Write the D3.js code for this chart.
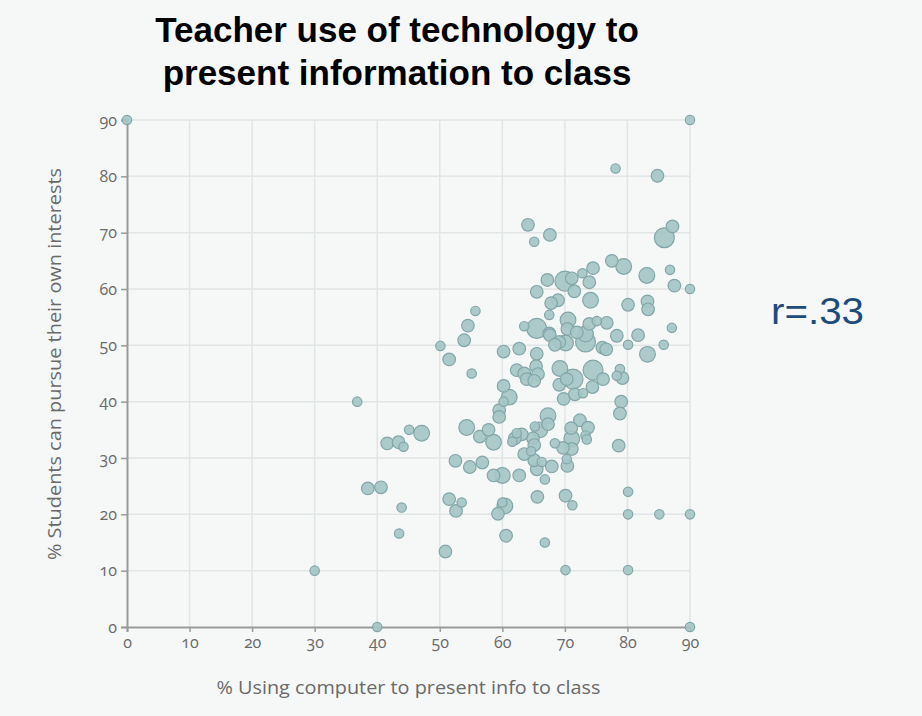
<!DOCTYPE html>
<html>
<head>
<meta charset="utf-8">
<script src="https://cdn.jsdelivr.net/npm/d3@7"></script>
<style>
  body { margin: 0; background: #f6f8f8; }
  svg { display: block; }
  .axis-title { font-family: "Open Sans", "Lato", sans-serif; font-size: 18px; fill: #6a6a6a; }
</style>
</head>
<body>
<svg id="chart" width="922" height="716"></svg>
<script>
// values: % using computer (x), % students pursue interests (y), relative sample size
const pctComputer = [
  0, 90, 90, 90, 90, 40, 30, 36.8, 78.1, 84.8,
  87.2, 85.9, 64.1, 65.1, 67.6, 77.5, 79.4, 74.5, 72.8, 83.1,
  86.8, 87.5, 70, 71.1, 67.2, 73.9, 71.5, 65.5, 74.1, 68.9,
  67.8, 67.5, 80.1, 83.2, 83.3, 55.7, 54.5, 53.9, 50.1, 51.5,
  55.1, 60.2, 62.7, 65.5, 63.5, 65.5, 67.5, 67.6, 70.5, 70.4,
  71.9, 73.9, 75.1, 76.7, 73.3, 73.3, 78.3, 81.7, 87.1, 80.1,
  85.8, 83.2, 70.1, 69.1, 68.4, 76, 76.6, 69.2, 71.3, 74.5,
  76.1, 78.8, 78.3, 79.2, 62.3, 63.5, 65.4, 65.7, 63.9, 65.1,
  60.2, 69.1, 70.3, 74.4, 61.1, 60.2, 59.5, 59.5, 54.3, 47.1,
  56.4, 57.8, 58.6, 52.5, 54.8, 56.8, 58.6, 60, 62.7, 66.8,
  67.9, 70.4, 65.5, 65.1, 63.5, 64.6, 66.3, 70.3, 51.5, 53.5,
  52.6, 59.3, 60.4, 60, 65.6, 70.1, 71.2, 60.6, 66.8, 50.9,
  80.1, 80.1, 85.1, 70.1, 80.1, 79, 78.8, 78.6, 67.3, 66,
  67.3, 64.9, 63.1, 62, 61.6, 69.8, 71.6, 72.9, 72.4, 71,
  71.1, 71.1, 69.7, 68.4, 73.7, 73.3, 73.5, 65.2, 41.6, 43.4,
  44.2, 45.1, 38.5, 40.6, 43.9, 43.5, 62.3, 65.1
];
const pctInterests = [
  90, 90, 60, 20, 0, 0, 10, 40, 81.4, 80.1,
  71.1, 69.1, 71.4, 68.4, 69.6, 65, 64, 63.7, 62.8, 62.4,
  63.4, 60.6, 61.4, 61.9, 61.6, 61.2, 59.6, 59.5, 58, 58,
  57.5, 55.4, 57.2, 57.8, 56.4, 56.1, 53.5, 50.9, 49.9, 47.5,
  45, 48.9, 49.4, 48.5, 53.4, 53, 52.1, 51.8, 54.5, 52.9,
  52.3, 53.8, 54.3, 54, 52, 50.6, 51.7, 51.8, 53.1, 50.1,
  50.1, 48.4, 50.4, 50.6, 50.1, 49.6, 49.3, 45.9, 44, 45.6,
  44, 45.8, 44.6, 44.2, 45.6, 45, 46.3, 44.9, 44, 43.7,
  42.8, 43, 44, 42.6, 40.8, 40, 38.5, 37.3, 35.4, 34.4,
  33.8, 35, 32.8, 29.5, 28.4, 29.2, 26.9, 26.9, 26.9, 26.2,
  28.5, 28.6, 28, 29.6, 30.7, 31.2, 29.3, 29.8, 22.7, 22.1,
  20.6, 20.1, 21.5, 22.1, 23.1, 23.3, 21.6, 16.2, 15, 13.4,
  24, 20, 20, 10.1, 10.1, 40, 37.9, 32.2, 37.5, 35,
  36, 33.5, 34.2, 33.5, 32.9, 40.5, 41.3, 41.5, 36.7, 35.3,
  33.4, 31.6, 31.8, 32.6, 35.4, 34, 33.3, 35.6, 32.6, 32.8,
  32, 35, 24.6, 24.8, 21.2, 16.6, 34.4, 32.3
];
const sampleSize = [
  20, 20, 20, 20, 20, 20, 20, 20, 20, 36,
  36, 90, 36, 20, 36, 36, 56, 36, 20, 56,
  20, 36, 90, 36, 36, 36, 36, 36, 56, 36,
  36, 20, 36, 36, 36, 20, 36, 36, 20, 36,
  20, 36, 36, 36, 20, 90, 36, 36, 56, 36,
  36, 36, 20, 36, 56, 90, 36, 36, 20, 20,
  20, 56, 56, 36, 36, 36, 36, 56, 90, 90,
  36, 20, 20, 36, 36, 36, 36, 36, 36, 36,
  36, 36, 36, 36, 56, 20, 36, 36, 56, 56,
  36, 36, 56, 36, 36, 36, 36, 56, 36, 20,
  36, 36, 36, 36, 36, 20, 20, 20, 36, 20,
  36, 36, 56, 20, 36, 36, 20, 36, 20, 36,
  20, 20, 20, 20, 20, 36, 36, 36, 56, 56,
  36, 36, 36, 36, 20, 36, 36, 20, 36, 36,
  56, 36, 36, 20, 36, 20, 20, 20, 36, 36,
  20, 20, 36, 36, 20, 20, 20, 36
];

const xTicks = [0, 10, 20, 30, 40, 50, 60, 70, 80, 90];
const yTicks = [0, 10, 20, 30, 40, 50, 60, 70, 80, 90];

const titleLines = ["Teacher use of technology to", "present information to class"];
const xTitle = "% Using computer to present info to class";
const yTitle = "% Students can pursue their own interests";
const corrLabel = "r=.33";

const svg = d3.select("#chart");

const plotLeft = 127, plotRight = 690, plotTop = 120, plotBottom = 627;

const x = d3.scaleLinear().domain([0, 90]).range([plotLeft, plotRight]);
const y = d3.scaleLinear().domain([0, 90]).range([plotBottom, plotTop]);
const r = d3.scaleSqrt().domain([0, 100]).range([0, 10.5]);

// title
svg.append("g")
  .selectAll("text")
  .data(titleLines)
  .join("text")
  .attr("x", 397)
  .attr("y", (d, i) => 42 + i * 43)
  .attr("text-anchor", "middle")
  .style("font-family", "'Liberation Sans', Arial, sans-serif")
  .style("font-weight", "bold")
  .style("font-size", "35px")
  .style("fill", "#000")
  .text(d => d);

// grid lines
const grid = svg.append("g").attr("class", "grid");
grid.selectAll(".vgrid")
  .data(xTicks.slice(1))
  .join("line")
  .attr("x1", d => x(d)).attr("x2", d => x(d))
  .attr("y1", plotTop).attr("y2", plotBottom)
  .style("stroke", "#e2e5e5")
  .style("stroke-width", 1.5);
grid.selectAll(".hgrid")
  .data(yTicks.slice(1))
  .join("line")
  .attr("x1", plotLeft).attr("x2", plotRight)
  .attr("y1", d => y(d)).attr("y2", d => y(d))
  .style("stroke", "#e2e5e5")
  .style("stroke-width", 1.5);

// axes
const xAxis = d3.axisBottom(x).tickValues(xTicks).tickSize(5).tickPadding(5);
const yAxis = d3.axisLeft(y).tickValues(yTicks).tickSize(6).tickPadding(4);

svg.append("g")
  .attr("class", "x-axis")
  .attr("transform", `translate(0, ${plotBottom})`)
  .call(xAxis);

svg.append("g")
  .attr("class", "y-axis")
  .attr("transform", `translate(${plotLeft}, 0)`)
  .call(yAxis);

svg.selectAll(".domain").style("stroke", "#9a9a9a").style("stroke-width", 2);
svg.selectAll(".tick line").style("stroke", "#9a9a9a").style("stroke-width", 1.5);
svg.selectAll(".tick text")
  .style("font-family", "'Open Sans', Lato, sans-serif")
  .style("font-size", "16px")
  .style("font-variant-numeric", "oldstyle-nums")
  .style("fill", "#6a6a6a");

// axis titles (stretched to the width they take in the source)
svg.append("text")
  .attr("class", "axis-title")
  .attr("x", (plotLeft + plotRight) / 2)
  .attr("y", 694)
  .attr("text-anchor", "middle")
  .attr("textLength", 384)
  .attr("lengthAdjust", "spacingAndGlyphs")
  .text(xTitle);

svg.append("text")
  .attr("class", "axis-title")
  .attr("transform", `translate(61, 364) rotate(-90)`)
  .attr("text-anchor", "middle")
  .attr("textLength", 392)
  .attr("lengthAdjust", "spacingAndGlyphs")
  .text(yTitle);

// points, big ones drawn first so small ones stay visible
const points = pctComputer.map((v, i) => ({ x: v, y: pctInterests[i], n: sampleSize[i] }))
  .sort((a, b) => b.n - a.n);

svg.append("g")
  .selectAll("circle")
  .data(points)
  .join("circle")
  .attr("cx", d => x(d.x))
  .attr("cy", d => y(d.y))
  .attr("r", d => r(d.n))
  .style("fill", "#a6c6c7")
  .style("fill-opacity", 0.92)
  .style("stroke", "#82a6a7")
  .style("stroke-width", 1.2);

// correlation note
svg.append("text")
  .attr("x", 771)
  .attr("y", 324)
  .attr("textLength", 93)
  .attr("lengthAdjust", "spacingAndGlyphs")
  .style("font-family", "'Liberation Sans', Arial, sans-serif")
  .style("font-size", "36px")
  .style("fill", "#1f4b7b")
  .text(corrLabel);
</script>
</body>
</html>
